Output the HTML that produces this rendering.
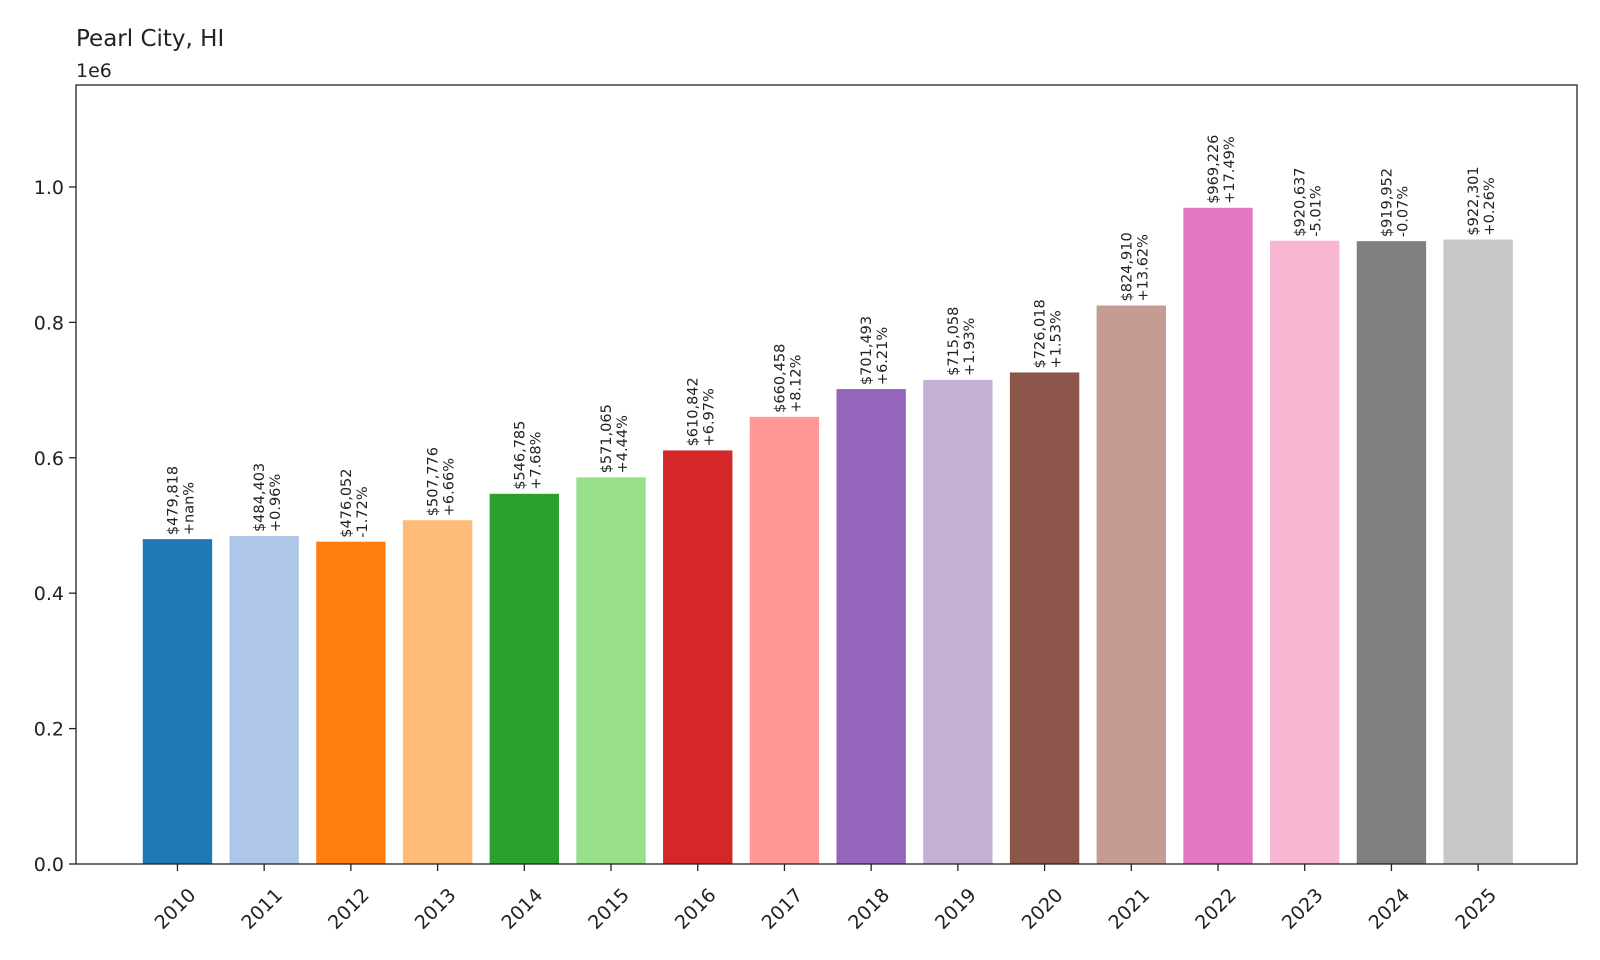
<!DOCTYPE html>
<html><head><meta charset="utf-8"><style>
body{margin:0;background:#fff}
svg{display:block;font-family:"DejaVu Sans","Liberation Sans",sans-serif}
</style></head><body>
<svg id="chart" width="1600" height="960" viewBox="0 0 1600 960">
<text x="76" y="46" font-size="23" fill="#222">Pearl City, HI</text>
<text x="76" y="77" font-size="19" fill="#222">1e6</text>
<g id="bars"></g>
<g id="yaxis"></g>
<g id="xaxis"></g>
<rect x="76" y="85" width="1501" height="779" fill="none" stroke="#222" stroke-width="1.3"/>
</svg>
<script>
const years = ["2010","2011","2012","2013","2014","2015","2016","2017","2018","2019","2020","2021","2022","2023","2024","2025"];
const values = [479818,484403,476052,507776,546785,571065,610842,660458,701493,715058,726018,824910,969226,920637,919952,922301];
const pctLabels = ["+nan%","+0.96%","-1.72%","+6.66%","+7.68%","+4.44%","+6.97%","+8.12%","+6.21%","+1.93%","+1.53%","+13.62%","+17.49%","-5.01%","-0.07%","+0.26%"];
const yTicks = [0,0.2,0.4,0.6,0.8,1.0];
const yTickLabels = ["0.0","0.2","0.4","0.6","0.8","1.0"];
const colors = ["#1f77b4","#aec7e8","#ff7f0e","#ffbb78","#2ca02c","#98df8a","#d62728","#ff9896","#9467bd","#c5b0d5","#8c564b","#c49c94","#e377c2","#f7b6d2","#7f7f7f","#c7c7c7"];

const NS="http://www.w3.org/2000/svg";
const L=76,R=1577,T=85,B=864;
const xmin=-1.17,xmax=16.14,ymax=1.1506e6;
const xs=i=>L+(i-xmin)/(xmax-xmin)*(R-L);
const ys=v=>B-v/ymax*(B-T);
const unit=(R-L)/(xmax-xmin);
function mk(tag,attrs,parent){const e=document.createElementNS(NS,tag);for(const k in attrs)e.setAttribute(k,attrs[k]);parent.appendChild(e);return e;}
const gb=document.getElementById('bars'),gy=document.getElementById('yaxis'),gx=document.getElementById('xaxis');
values.forEach((v,i)=>{
  const cx=xs(i),w=unit*0.8,top=ys(v);
  const r=mk('rect',{x:cx-w/2,y:top,width:w,height:B-top,fill:colors[i]},gb);
  
  
  const t1=mk('text',{x:0,y:0,'font-size':14.5,fill:'#222',transform:`translate(${cx},${top-4}) rotate(-90)`},gb);
  t1.textContent='$'+v.toLocaleString('en-US');
  
  
  const t2=mk('text',{x:0,y:0,'font-size':14.5,fill:'#222',transform:`translate(${cx+16},${top-4}) rotate(-90)`},gb);
  t2.textContent=pctLabels[i];
  
  
  const tk=mk('line',{x1:cx,x2:cx,y1:B,y2:B+7,stroke:'#222','stroke-width':1.3},gx);
  
  
  const tl=mk('text',{x:0,y:0,'font-size':19,fill:'#222','text-anchor':'middle','dominant-baseline':'central',transform:`translate(${cx-2},${B+45}) rotate(-45)`},gx);
  tl.textContent=years[i];
  
  
});
yTicks.forEach((t,i)=>{
  const y=ys(t*1e6);
  const tk=mk('line',{x1:L-7,x2:L,y1:y,y2:y,stroke:'#222','stroke-width':1.3},gy);
  
  
  const tl=mk('text',{x:L-12,y:y+7,'font-size':19,fill:'#222','text-anchor':'end'},gy);
  tl.textContent=yTickLabels[i];
  
  
});
</script>
</body></html>
